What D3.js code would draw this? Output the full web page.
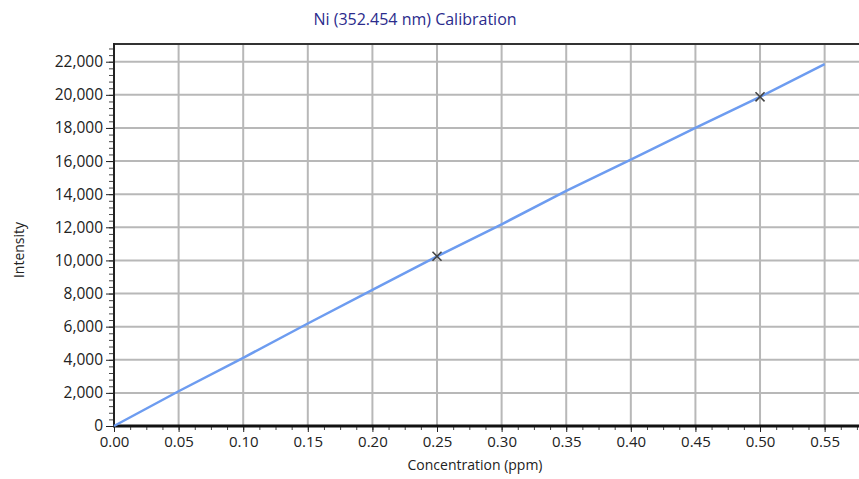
<!DOCTYPE html>
<html>
<head>
<meta charset="utf-8">
<script src="https://cdn.jsdelivr.net/npm/d3@7"></script>
<style>
  body { margin: 0; background: #fff; }
  text { font-family: "Open Sans", sans-serif; }
</style>
</head>
<body>
<div id="chart"></div>
<script>
// calibration curve
const concentration = [0, 0.05, 0.10, 0.15, 0.20, 0.25, 0.30, 0.35, 0.40, 0.45, 0.50, 0.55];
const intensity = [0, 2100, 4120, 6190, 8220, 10240, 12180, 14200, 16080, 18000, 19880, 21850];
// measured standards
const stdConc = [0.25, 0.50];
const stdIntensity = [10250, 19880];

const xTicks = [0, 0.05, 0.10, 0.15, 0.20, 0.25, 0.30, 0.35, 0.40, 0.45, 0.50, 0.55];
const yTicks = [0, 2000, 4000, 6000, 8000, 10000, 12000, 14000, 16000, 18000, 20000, 22000];

const width = 859, height = 479;
const plotL = 114, plotR = 859, plotT = 44, plotB = 426;

const svg = d3.select('#chart').append('svg')
  .attr('width', width)
  .attr('height', height);

const x = d3.scaleLinear().domain([0, 0.5766]).range([plotL, plotR]);
const y = d3.scaleLinear().domain([0, 23070]).range([plotB, plotT]);

// grid
svg.append('g').selectAll('line')
  .data(xTicks.slice(1))
  .enter().append('line')
  .attr('x1', d => x(d)).attr('x2', d => x(d))
  .attr('y1', plotT).attr('y2', plotB)
  .attr('stroke', '#b8b8b8').attr('stroke-width', 2);

svg.append('g').selectAll('line')
  .data(yTicks.slice(1))
  .enter().append('line')
  .attr('x1', plotL).attr('x2', plotR)
  .attr('y1', d => y(d)).attr('y2', d => y(d))
  .attr('stroke', '#b8b8b8').attr('stroke-width', 2);

// top border
svg.append('line')
  .attr('x1', plotL).attr('x2', plotR)
  .attr('y1', plotT).attr('y2', plotT)
  .attr('stroke', '#333').attr('stroke-width', 2);

// x axis
const xMinor = d3.range(0, 0.5766, 0.0125);
const xAxis = svg.append('g').attr('transform', `translate(0,${plotB})`);
xAxis.call(d3.axisBottom(x).tickValues(xMinor).tickSize(4).tickFormat(''))
  .call(g => g.select('.domain').remove())
  .call(g => g.selectAll('line').attr('stroke', '#444'));
xAxis.append('g')
  .call(d3.axisBottom(x).tickValues(xTicks).tickSize(6).tickPadding(4).tickFormat(d3.format('.2f')))
  .call(g => g.select('.domain').remove())
  .call(g => g.selectAll('line').attr('stroke', '#222'))
  .call(g => g.selectAll('text').attr('font-size', 15).attr('fill', '#222')
    .attr('font-family', '"Open Sans", sans-serif'));
svg.append('line')
  .attr('x1', plotL - 1).attr('x2', plotR)
  .attr('y1', plotB).attr('y2', plotB)
  .attr('stroke', '#111').attr('stroke-width', 3);

// y axis
const yMinor = d3.range(0, 23070, 400);
const yAxis = svg.append('g').attr('transform', `translate(${plotL},0)`);
yAxis.call(d3.axisLeft(y).tickValues(yMinor).tickSize(5).tickFormat(''))
  .call(g => g.select('.domain').remove())
  .call(g => g.selectAll('line').attr('stroke', '#444'));
yAxis.append('g')
  .call(d3.axisLeft(y).tickValues(yTicks).tickSize(8).tickPadding(3).tickFormat(d3.format(',')))
  .call(g => g.select('.domain').remove())
  .call(g => g.selectAll('line').attr('stroke', '#222'))
  .call(g => g.selectAll('text').attr('font-size', 15.5).attr('fill', '#222')
    .attr('font-family', '"Open Sans", sans-serif'));
svg.append('line')
  .attr('x1', plotL).attr('x2', plotL)
  .attr('y1', plotT - 1).attr('y2', plotB)
  .attr('stroke', '#222').attr('stroke-width', 2);

// curve
const line = d3.line()
  .x((d, i) => x(concentration[i]))
  .y(d => y(d));
svg.append('path')
  .datum(intensity)
  .attr('d', line)
  .attr('fill', 'none')
  .attr('stroke', '#6d9cf0')
  .attr('stroke-width', 2.5);

// standards as x markers
const cross = d3.symbol().type(d3.symbolX).size(55);
svg.append('g').selectAll('path')
  .data(stdConc)
  .enter().append('path')
  .attr('d', cross)
  .attr('transform', (d, i) => `translate(${x(d)},${y(stdIntensity[i])})`)
  .attr('fill', 'none')
  .attr('stroke', '#444')
  .attr('stroke-width', 1.6);

// titles
svg.append('text')
  .attr('x', 415).attr('y', 25)
  .attr('text-anchor', 'middle')
  .attr('font-size', 16)
  .attr('fill', '#2b2b8c')
  .text('Ni (352.454 nm) Calibration');

svg.append('text')
  .attr('x', 475).attr('y', 470)
  .attr('text-anchor', 'middle')
  .attr('font-size', 14)
  .attr('fill', '#222')
  .text('Concentration (ppm)');

svg.append('text')
  .attr('transform', 'translate(24,250) rotate(-90)')
  .attr('text-anchor', 'middle')
  .attr('font-size', 14)
  .attr('fill', '#222')
  .text('Intensity');
</script>
</body>
</html>
